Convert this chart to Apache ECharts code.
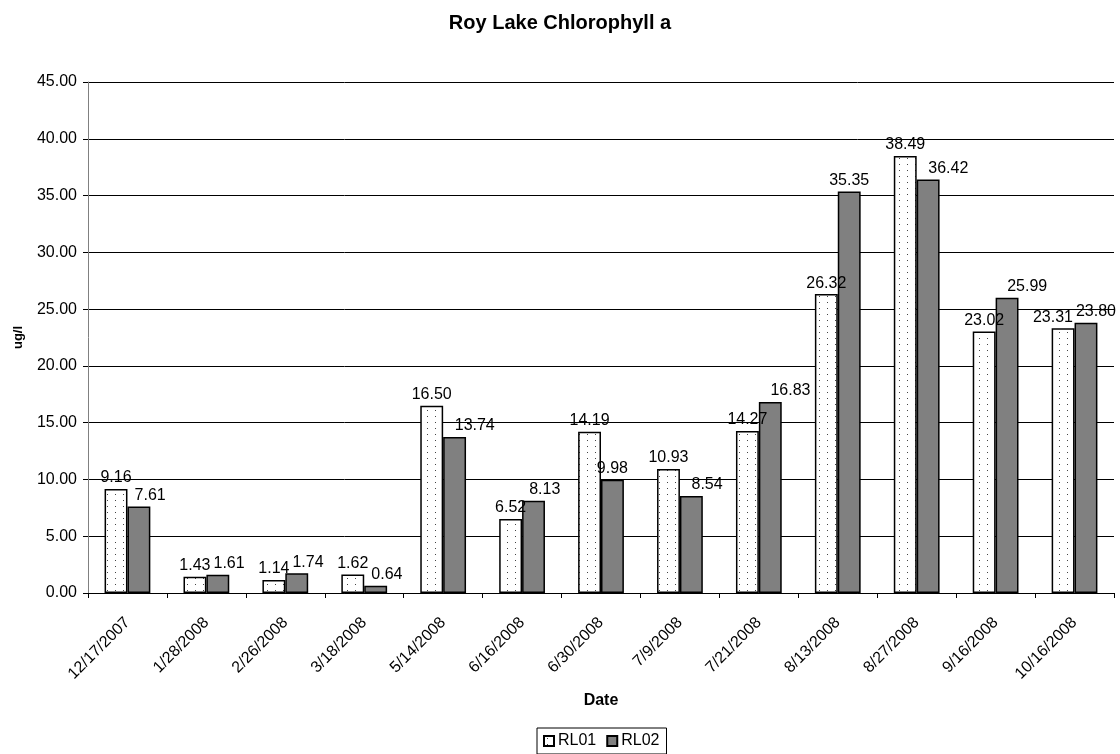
<!DOCTYPE html>
<html>
<head>
<meta charset="utf-8">
<script src="https://cdn.jsdelivr.net/npm/echarts@6/dist/echarts.min.js"></script>
<style>
html,body{margin:0;padding:0;background:#fff;}
#chart{width:1120px;height:754px;}
</style>
</head>
<body>
<div id="chart"></div>
<script>
var categories = ['12/17/2007','1/28/2008','2/26/2008','3/18/2008','5/14/2008','6/16/2008','6/30/2008','7/9/2008','7/21/2008','8/13/2008','8/27/2008','9/16/2008','10/16/2008'];
var rl01 = [9.16, 1.43, 1.14, 1.62, 16.50, 6.52, 14.19, 10.93, 14.27, 26.32, 38.49, 23.02, 23.31];
var rl02 = [7.61, 1.61, 1.74, 0.64, 13.74, 8.13, 9.98, 8.54, 16.83, 35.35, 36.42, 25.99, 23.80];
var yTicks = [0, 5, 10, 15, 20, 25, 30, 35, 40, 45];

var font = '"Liberation Sans", Arial, sans-serif';
var W = 1120;

// dotted fill pattern for RL01
var pc = document.createElement('canvas');
pc.width = 8; pc.height = 6;
var pctx = pc.getContext('2d');
pctx.fillStyle = '#ffffff';
pctx.fillRect(0, 0, 8, 6);
pctx.fillStyle = '#444444';
pctx.fillRect(3, 2, 1, 1);

// text measuring for label overlap handling
var mc = document.createElement('canvas').getContext('2d');
mc.font = '16px ' + font;
function textW(s) { return mc.measureText(s).width; }

// compute horizontal shifts [dx1, dx2] for the pair of labels in category i
function pairShift(i, left1, bw, bottom, ppu, lh) {
  var v1 = rl01[i], v2 = rl02[i];
  var top1 = bottom - v1 * ppu, top2 = bottom - v2 * ppu;
  if (Math.abs(top1 - top2) >= lh + 20) return [0, 0];
  var c1 = left1 + bw / 2, c2 = left1 + bw * 1.5;
  var w1 = textW(v1.toFixed(2)), w2 = textW(v2.toFixed(2));
  var gap = 3;
  var ov = (c1 + w1 / 2) + gap - (c2 - w2 / 2);
  if (ov <= 0) return [0, 0];
  var dx2 = ov, dx1 = 0;
  var limit = W - 4;
  if (c2 + w2 / 2 + dx2 > limit) {
    var ex = c2 + w2 / 2 + dx2 - limit;
    dx2 -= ex; dx1 = -ex;
  }
  return [dx1, dx2];
}

function layoutLabel(params) {
  var i = params.dataIndex;
  var r = params.rect;
  var si = params.seriesIndex;
  var v = si === 0 ? rl01[i] : rl02[i];
  if (!v || !r.height) return {};
  var bottom = r.y + r.height;
  var ppu = r.height / v;
  var left1 = si === 0 ? r.x : r.x - r.width;
  var s = pairShift(i, left1, r.width, bottom, ppu, params.labelRect.height);
  return s[si] ? {dx: s[si]} : {};
}

var chart = echarts.init(document.getElementById('chart'), null, {renderer: 'canvas'});
var lbl = {show: true, position: 'top', distance: 3, color: '#000', fontFamily: font, fontSize: 16,
  formatter: function (p) { return p.value.toFixed(2); }};

chart.setOption({
  animation: false,
  backgroundColor: '#fff',
  title: {text: 'Roy Lake Chlorophyll a', left: 'center', top: 8,
    textStyle: {fontFamily: font, fontSize: 20, fontWeight: 'bold', color: '#000'}},
  legend: {top: 728, left: 537, data: ['RL01', 'RL02'], icon: 'rect', itemWidth: 10, itemHeight: 10, itemGap: 10,
    borderColor: '#000', borderWidth: 1, padding: [5, 7, 5, 6], borderRadius: 0,
    textStyle: {fontFamily: font, fontSize: 16, color: '#000', padding: [0, 0, 0, -1]}},
  grid: {left: 88, right: 6, top: 82, bottom: 161, containLabel: false, outerBoundsMode: 'none'},
  xAxis: {type: 'category', data: categories,
    name: 'Date', nameLocation: 'middle', nameGap: 100,
    nameTextStyle: {fontFamily: font, fontSize: 16, fontWeight: 'bold', color: '#000'},
    axisLine: {lineStyle: {color: '#000', width: 1}},
    axisTick: {show: true, length: 5, lineStyle: {color: '#000'}},
    axisLabel: {rotate: 45, fontFamily: font, fontSize: 16, color: '#000', margin: 27, interval: 0}},
  yAxis: {type: 'value', min: 0, max: 45, interval: 5,
    name: 'ug/l', nameLocation: 'middle', nameGap: 63, nameRotate: 90,
    nameTextStyle: {fontFamily: font, fontSize: 13, fontWeight: 'bold', color: '#000'},
    axisLine: {show: true, lineStyle: {color: '#808080', width: 1}},
    axisTick: {show: true, length: 5, lineStyle: {color: '#000'}},
    splitLine: {lineStyle: {color: '#000', width: 1}},
    axisLabel: {fontFamily: font, fontSize: 16, color: '#000', margin: 11,
      formatter: function (v) { return yTicks.indexOf(v) >= 0 ? v.toFixed(2) : ''; }}},
  series: [
    {name: 'RL01', type: 'bar', data: rl01, barGap: '0%', barCategoryGap: '42%',
      itemStyle: {color: {image: pc, repeat: 'repeat'}, borderColor: '#000', borderWidth: 1.5},
      label: lbl, labelLayout: layoutLabel},
    {name: 'RL02', type: 'bar', data: rl02,
      itemStyle: {color: '#808080', borderColor: '#000', borderWidth: 1.5},
      label: lbl, labelLayout: layoutLabel}
  ]
});
</script>
</body>
</html>
